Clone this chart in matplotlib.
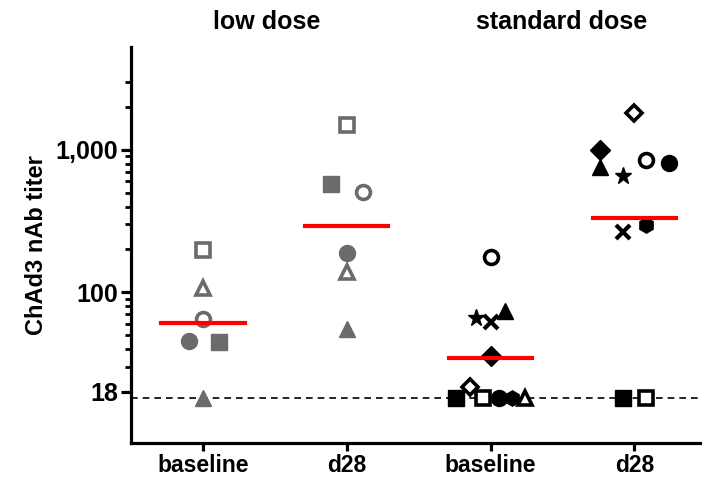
import numpy as np
import matplotlib.pyplot as plt
from matplotlib.ticker import FixedLocator, FixedFormatter, NullFormatter

plt.rcParams['font.family'] = ['Liberation Sans', 'DejaVu Sans']
plt.rcParams['font.weight'] = 'bold'

xlabels = ['baseline', 'd28', 'baseline', 'd28']
groups = ['low dose', 'standard dose']
lloq = 18

# low dose subjects: (marker, filled)
low_markers = ['s', '^', 'o', 'o', 's', '^']
low_filled = [False, False, False, True, True, True]
low_base = [198, 107, 65, 45.5, 45, 18]
low_d28 = [1500, 140, 509, 189, 577, 55]
low_jit_base = [0, 0, 0, -0.1, 0.11, 0]
low_jit_d28 = [0, 0, 0.11, 0, -0.11, 0]

# standard dose subjects
std_markers = ['o', '*', 'x', '^', 'D', 'D', 's', 's', 'o', 'h', '^']
std_filled = [False, True, True, True, True, False, True, False, True, True, False]
std_base = [178, 65.6, 62, 74.3, 35.7, 21.7, 18, 18, 18, 18, 18]
std_d28 = [851, 657, 267, 755, 1000, 1811, 18, 18, 806, 297, None]
std_jit_base = [0, -0.1, 0, 0.1, 0, -0.14, -0.24, -0.05, 0.06, 0.15, 0.24]
std_jit_d28 = [0.08, -0.08, -0.08, -0.24, -0.24, 0, -0.08, 0.08, 0.24, 0.08, 0]

GRAY = '#6b6b6b'

fig = plt.figure(figsize=(7.02, 4.8), dpi=100)
ax = fig.add_axes([0.1866, 0.0777, 0.8134, 0.825])

SIZES = {'s': 12, 'o': 11.5, '^': 12, 'D': 10, '*': 12.5, 'x': 10, 'h': 11}


def draw(xpos, vals, markers, filled, jit, color):
    pts = []
    for v, m, f, j in zip(vals, markers, filled, jit):
        if v is None:
            continue
        pts.append(v)
        size = SIZES[m]
        if m == 'x':
            ax.plot(xpos + j, v, marker='x', ms=size, mew=3, color=color,
                    ls='none', zorder=3)
        elif f:
            ax.plot(xpos + j, v, marker=m, ms=size, color=color, mec=color,
                    ls='none', zorder=3)
        else:
            ax.plot(xpos + j, v, marker=m, ms=size - 1.5, mfc='white', mec=color,
                    mew=2.6, ls='none', zorder=3)
    gm = 10 ** np.mean(np.log10(pts))
    ax.plot([xpos - 0.29, xpos + 0.29], [gm, gm], color='#ff0000', lw=3, zorder=4)


draw(0, low_base, low_markers, low_filled, low_jit_base, GRAY)
draw(1, low_d28, low_markers, low_filled, low_jit_d28, GRAY)
draw(2, std_base, std_markers, std_filled, std_jit_base, 'black')
draw(3, std_d28, std_markers, std_filled, std_jit_d28, 'black')

ax.axhline(lloq, color='black', lw=1.2, ls=(0, (4, 3)), zorder=1)

ax.set_yscale('log')
ax.set_ylim(8.8, 5300)
ax.set_xlim(-0.5, 3.47)
ax.yaxis.set_major_locator(FixedLocator([20, 100, 1000]))
ax.yaxis.set_major_formatter(FixedFormatter(['18', '100', '1,000']))
ax.yaxis.set_minor_locator(FixedLocator([30, 40, 50, 60, 70, 80, 90,
                                         200, 300, 400, 500, 600, 700, 800, 900,
                                         2000, 3000]))
ax.yaxis.set_minor_formatter(NullFormatter())
ax.set_xticks(range(4))
ax.set_xticklabels(xlabels)

for s in ['top', 'right']:
    ax.spines[s].set_visible(False)
for s in ['left', 'bottom']:
    ax.spines[s].set_linewidth(2.3)

ax.tick_params(axis='y', which='major', length=7, width=2.3, labelsize=18, pad=2)
ax.tick_params(axis='y', which='minor', length=4.5, width=2)
ax.tick_params(axis='x', length=6, width=2.3, labelsize=16.5, pad=2)
for t in ax.get_xticklabels() + ax.get_yticklabels():
    t.set_fontweight('bold')

ax.set_ylabel('ChAd3 nAb titer', fontsize=17, fontweight='bold', labelpad=6)

fig.text(267 / 702, 1 - 22 / 480, groups[0], ha='center', va='center',
         fontsize=18, fontweight='bold')
fig.text(562 / 702, 1 - 22 / 480, groups[1], ha='center', va='center',
         fontsize=18, fontweight='bold')

fig.savefig('out.png', dpi=100)
